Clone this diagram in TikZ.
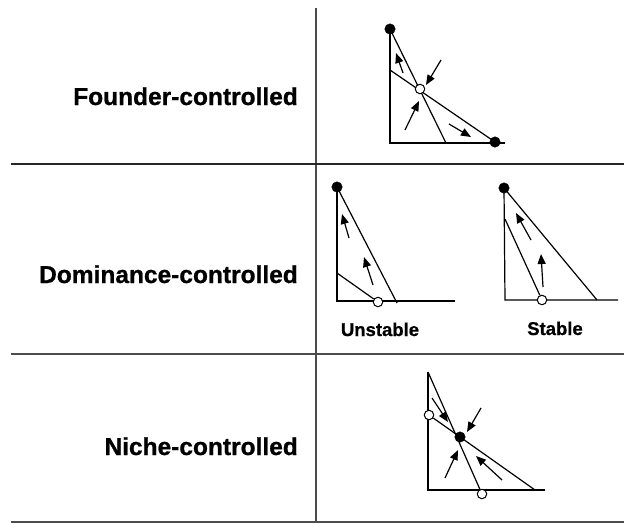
\documentclass[tikz,border=0pt]{standalone}
\usepackage{fontspec}
\setmainfont{Liberation Sans}[BoldFeatures={FakeBold=0.8}]
\usetikzlibrary{arrows.meta}
\tikzset{
  grid/.style={draw=black!70, line width=1.4pt},
  ax/.style={draw=black, line width=1.2pt},
  flow/.style={draw=black, line width=1.2pt, -{Triangle[length=10pt,width=8pt]}},
  full/.style={circle, fill=black, draw=black, inner sep=0pt, minimum size=10.5pt},
  open/.style={circle, fill=white, draw=black, line width=1pt, inner sep=0pt, minimum size=9.5pt},
  rowlab/.style={font=\fontsize{24.5}{28}\selectfont\bfseries, anchor=base east, inner sep=0pt},
  sublab/.style={font=\fontsize{18.5}{21}\selectfont\bfseries, anchor=base, inner sep=0pt}
}
\begin{document}
\begin{tikzpicture}[x=1pt,y=-1pt]
\useasboundingbox (0,0) rectangle (624,523);
% table
\coordinate (vt) at (316,8);
\coordinate (vb) at (316,522);
\coordinate (h1l) at (11,164);
\coordinate (h1r) at (624,164);
\coordinate (h2l) at (11,354);
\coordinate (h2r) at (624,354);
\coordinate (h3l) at (11,522);
\coordinate (h3r) at (624,522);
\draw[grid] (vt) -- (vb);
\draw[grid, draw=black!85, line width=1.8pt] (h1l) -- (h1r);
\draw[grid] (h2l) -- (h2r);
\draw[grid] (h3l) -- (h3r);
% row labels
\node[rowlab] (lf) at (298,105) {Founder-controlled};
\node[rowlab] (ld) at (298,283) {Dominance-controlled};
\node[rowlab] (ln) at (298,455) {Niche-controlled};
% --- Founder-controlled ---
\coordinate (fo) at (390,143);
\coordinate (fx) at (505,143);
\coordinate (fl) at (390,70);
\coordinate (fb) at (446,143);
\node[full] (ftop) at (390,29) {};
\node[full] (fright) at (495,142) {};
\draw[ax] (ftop.center) -- (fo) -- (fx);
\draw[ax] (ftop.center) -- (fb);
\draw[ax] (fl) -- (fright.center);
\node[open] (fmid) at (420,89) {};
\coordinate (fa1s) at (403,73); \coordinate (fa1e) at (396,53);
\coordinate (fa2s) at (441,60); \coordinate (fa2e) at (426,85);
\coordinate (fa3s) at (405,130); \coordinate (fa3e) at (419,101);
\coordinate (fa4s) at (449,124); \coordinate (fa4e) at (471,137);
\draw[flow] (fa1s) -- (fa1e);
\draw[flow] (fa2s) -- (fa2e);
\draw[flow] (fa3s) -- (fa3e);
\draw[flow] (fa4s) -- (fa4e);
% --- Dominance: unstable ---
\coordinate (uo) at (337,301);
\coordinate (ux) at (455,301);
\coordinate (ul) at (337,273);
\coordinate (ub) at (397,303);
\node[full] (utop) at (337,187) {};
\draw[ax] (utop.center) -- (uo) -- (ux);
\draw[ax] (utop.center) -- (ub);
\node[open] (ucirc) at (378,302) {};
\draw[ax] (ul) -- (ucirc);
\coordinate (ua1s) at (349,238); \coordinate (ua1e) at (342,214);
\coordinate (ua2s) at (373,285); \coordinate (ua2e) at (364,257);
\draw[flow] (ua1s) -- (ua1e);
\draw[flow] (ua2s) -- (ua2e);
\node[sublab] (lu) at (380,336) {Unstable};
% --- Dominance: stable ---
\coordinate (so) at (505,300);
\coordinate (sx) at (618,300);
\coordinate (sl) at (505,219);
\coordinate (sb) at (597,300);
\node[full] (stop) at (504,188) {};
\draw[ax] (stop.center) -- (so) -- (sx);
\draw[ax] (stop.center) -- (sb);
\node[open] (scirc) at (542,300) {};
\draw[ax] (sl) -- (scirc);
\coordinate (sa1s) at (531,240); \coordinate (sa1e) at (516,213);
\coordinate (sa2s) at (543,287); \coordinate (sa2e) at (541,254);
\draw[flow] (sa1s) -- (sa1e);
\draw[flow] (sa2s) -- (sa2e);
\node[sublab] (ls) at (555,335) {Stable};
% --- Niche-controlled ---
\coordinate (nt) at (428,372);
\coordinate (no) at (428,490);
\coordinate (nx) at (545,490);
\coordinate (nr) at (535,490);
\draw[ax] (nt) -- (no) -- (nx);
\node[open] (nbot) at (482,494) {};
\node[open] (nleft) at (429,415) {};
\draw[ax] (nt) -- (nbot);
\draw[ax] (nleft) -- (nr);
\node[full] (ndot) at (460,437) {};
\coordinate (na1s) at (432,398); \coordinate (na1e) at (448,422);
\coordinate (na2s) at (481,408); \coordinate (na2e) at (467,432);
\coordinate (na3s) at (445,478); \coordinate (na3e) at (458,450);
\coordinate (na4s) at (502,480); \coordinate (na4e) at (476,456);
\draw[flow] (na1s) -- (na1e);
\draw[flow] (na2s) -- (na2e);
\draw[flow] (na3s) -- (na3e);
\draw[flow] (na4s) -- (na4e);
\end{tikzpicture}
\end{document}
